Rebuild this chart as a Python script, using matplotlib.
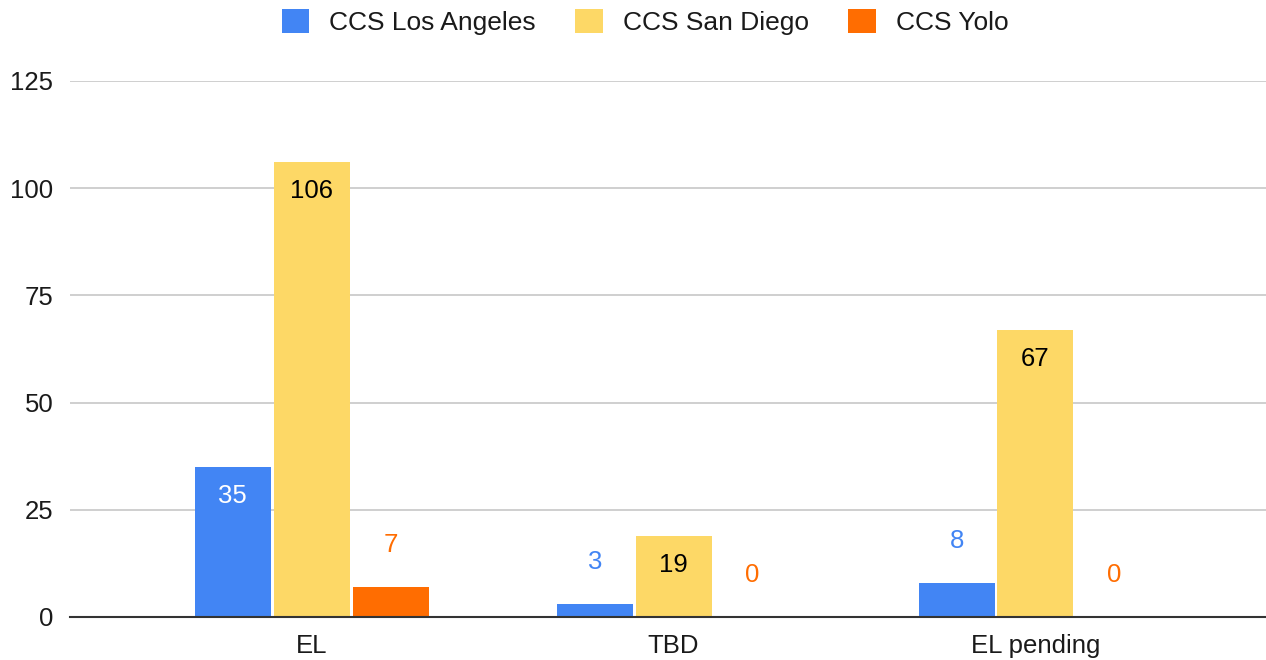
import numpy as np
import matplotlib.pyplot as plt
from matplotlib.patches import Patch

# chart data
categories = ["EL", "TBD", "EL pending"]
series_names = ["CCS Los Angeles", "CCS San Diego", "CCS Yolo"]
los_angeles = [35, 3, 8]
san_diego = [106, 19, 67]
yolo = [7, 0, 0]
y_ticks = [0, 25, 50, 75, 100, 125]

colors = ["#4285F4", "#FDD866", "#FF6D01"]
inside_colors = ["white", "black", "black"]

plt.rcParams['font.family'] = ['Liberation Sans', 'DejaVu Sans']

fig = plt.figure(figsize=(12.66, 6.6), dpi=100)
ax = fig.add_axes([70 / 1266, 43 / 660, 1196 / 1266, 536 / 660])

x = np.arange(len(categories))
width = 0.21
step = 0.218
values = [los_angeles, san_diego, yolo]

for i, vals in enumerate(values):
    pos = x + (i - 1) * step
    bars = ax.bar(pos, vals, width=width, color=colors[i], zorder=3)
    for b, v in zip(bars, vals):
        cx = b.get_x() + b.get_width() / 2
        # tall bars get the label inside, short ones above
        if v >= 15:
            ax.annotate(str(v), (cx, v), xytext=(0, -29), textcoords='offset pixels',
                        ha='center', va='center', fontsize=18.5,
                        color=inside_colors[i], zorder=4)
        else:
            ax.annotate(str(v), (cx, v), xytext=(0, 42), textcoords='offset pixels',
                        ha='center', va='center', fontsize=18.5,
                        color=colors[i], zorder=4)

ax.set_xlim(-0.668, 2.637)
ax.set_ylim(0, 125)
ax.set_yticks(y_ticks)
ax.set_yticklabels([str(t) for t in y_ticks])
ax.set_xticks(x)
ax.set_xticklabels(categories)
ax.tick_params(axis='both', length=0, labelsize=18.5, colors='#1a1a1a')
ax.tick_params(axis='y', pad=12)
ax.tick_params(axis='x', pad=12)
ax.yaxis.grid(True, color='#CCCCCC', linewidth=1.3, zorder=0)
for s in ['top', 'right', 'left']:
    ax.spines[s].set_visible(False)
ax.spines['bottom'].set_color('#333333')
ax.spines['bottom'].set_linewidth(1.5)
ax.spines['bottom'].set_zorder(5)

handles = [Patch(facecolor=c, edgecolor='none') for c in colors]
fig.legend(handles, series_names, loc='center', bbox_to_anchor=(645 / 1266, 1 - 22 / 660),
           ncol=3, frameon=False, fontsize=19, handlelength=1.05, handleheight=1.05,
           handletextpad=0.75, columnspacing=1.5, labelcolor='#1a1a1a')

fig.savefig('out.png', dpi=100)
